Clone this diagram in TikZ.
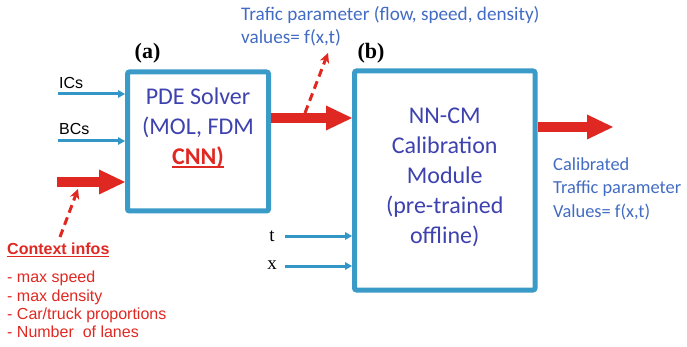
\documentclass[tikz,border=0pt]{standalone}
\usepackage{fontspec}
\setmainfont{Liberation Serif}
\newfontfamily\calibri{Carlito}
\newfontfamily\arial{Liberation Sans}
\usetikzlibrary{arrows.meta}
\definecolor{frameblue}{RGB}{58,154,200}
\definecolor{wireblue}{RGB}{52,150,198}
\definecolor{inkblue}{RGB}{62,66,175}
\definecolor{noteblue}{RGB}{66,108,195}
\definecolor{flowred}{RGB}{224,40,34}
% thick underline in the current colour
\newcommand{\thickul}[1]{\setbox0\hbox{#1}\rlap{\raisebox{-3pt}{\rule{\wd0}{1.6pt}}}\box0}

\begin{document}
\begin{tikzpicture}[x=1pt,y=-1pt,
  module/.style={draw=frameblue,line width=5pt,rounded corners=2pt,inner sep=0pt,fill=white},
  boxlabel/.style={inner sep=0pt,text=inkblue,align=center,font=\calibri\fontsize{24}{30}\selectfont},
  tag/.style={inner sep=0pt,font=\bfseries\fontsize{22}{26}\selectfont},
  wire/.style={draw=wireblue,line width=3pt,-{Triangle[length=7pt,width=8pt,line width=0pt]}},
  flow/.style={draw=flowred,line width=10pt,-{Triangle[length=26pt,width=25pt,line width=0pt]}},
  hint/.style={draw=flowred,line width=3pt,dash pattern=on 8pt off 5pt,-{Stealth[length=10pt,width=10pt,line width=0pt]}},
  note/.style={inner sep=0pt,anchor=west,align=left,text=noteblue},
  sidelabel/.style={inner sep=0pt,anchor=west,font=\arial\fontsize{16}{18}\selectfont},
  varlabel/.style={inner sep=0pt,font=\fontsize{19}{22}\selectfont},
]
\useasboundingbox (0,0) rectangle (687,347);

% the two modules
\node[module,minimum width=141pt,minimum height=139pt] (solver) at (198,141.5) {};
\node[module,minimum width=180.5pt,minimum height=219pt] (calib) at (444.75,180.5) {};

\node[boxlabel] (solvertext) at (198,128) {PDE Solver\\(MOL, FDM\\{\bfseries\color{flowred}\thickul{CNN)}}};
\node[boxlabel] (calibtext) at (444.75,177.5) {NN-CM\\Calibration\\Module\\(pre-trained\\offline)};

\node[tag] (taga) at (147.5,53) {(a)};
\node[tag] (tagb) at (371,53) {(b)};

% inputs of the solver
\coordinate (icsin) at (58,94);
\coordinate (bcsin) at (58,141);
\coordinate (ctxin) at (57,182);
\node[sidelabel] (icslabel) at (59,83) {ICs};
\node[sidelabel] (bcslabel) at (59,129) {BCs};
\draw[wire] (icsin) -- (icsin -| solver.west);
\draw[wire] (bcsin) -- (bcsin -| solver.west);
\draw[flow] (ctxin) -- (ctxin -| solver.west);

% solver to calibration module
\coordinate (midflow) at (268.5,118);
\draw[flow] (solver.east |- midflow) -- (calib.west |- midflow);

% inputs t and x
\coordinate (tin) at (285,236);
\coordinate (xin) at (285,266);
\node[varlabel] (tlabel) at (272,236) {t};
\node[varlabel] (xlabel) at (272,265) {x};
\draw[wire] (tin) -- (tin -| calib.west);
\draw[wire] (xin) -- (xin -| calib.west);

% output
\coordinate (outtip) at (613,127);
\draw[flow] (calib.east |- outtip) -- (outtip);

% intermediate values
\coordinate (hintfoot) at (305,113);
\coordinate (hinttop) at (328,53);
\draw[hint] (hintfoot) -- (hinttop);
\node[note,font=\calibri\fontsize{19.2}{23.5}\selectfont] (topnote) at (241,26.5) {Trafic parameter (flow, speed, density)\\values= f(x,t)};

\node[note,font=\calibri\fontsize{18.4}{23.5}\selectfont] (outnote) at (553,188.5) {Calibrated\\Traffic parameter\\Values= f(x,t)};

% context information
\coordinate (ctxfoot) at (60,237);
\coordinate (ctxtop) at (78,189);
\draw[hint] (ctxfoot) -- (ctxtop);
\node[inner sep=0pt,anchor=west,text=flowred,font=\arial\bfseries\fontsize{16}{18}\selectfont] (ctxtitle) at (7,250) {\thickul{Context infos}};
\node[inner sep=0pt,anchor=west,align=left,text=flowred,font=\arial\fontsize{16}{18.4}\selectfont] (ctxlist) at (7,304.5)
  {- max speed\\- max density\\- Car/truck proportions\\- Number~ of lanes};
\end{tikzpicture}
\end{document}
